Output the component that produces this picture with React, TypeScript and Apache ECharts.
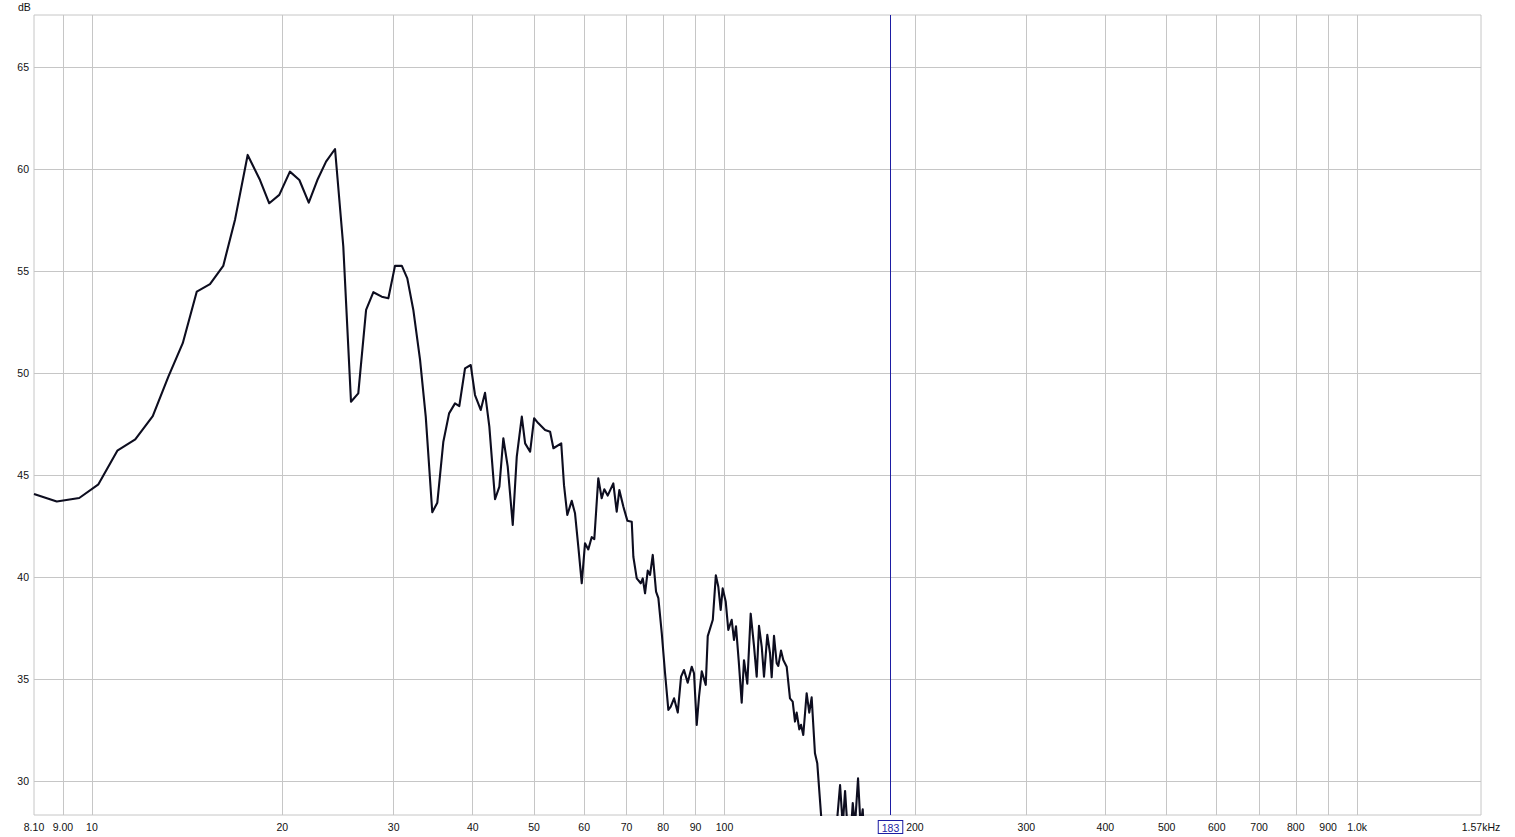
import React, { useEffect, useRef } from "react";
import * as echarts from "echarts";

// Frequency (Hz) of each measured point
const freqHz = [
  8.1, 8.8, 9.55, 10.24, 10.97, 11.71, 12.48, 13.21, 13.92, 14.65, 15.37, 16.13, 16.84, 17.63, 18.44, 19.07, 19.78,
  20.56, 21.28, 22.02, 22.72, 23.45, 24.23, 24.97, 25.68, 26.37, 27.13, 27.86, 28.72, 29.42, 30.14, 30.89, 31.52,
  32.22, 33.02, 33.71, 34.52, 35.16, 35.94, 36.7, 37.5, 38.09, 38.89, 39.71, 40.33, 41.18, 41.83, 42.49, 43.38,
  44.07, 44.71, 45.43, 46.27, 46.95, 47.82, 48.4, 49.29, 50.01, 50.8, 52.05, 53.01, 53.65, 55.2, 55.76, 56.43,
  57.35, 58.04, 58.74, 59.48, 60.19, 60.91, 61.67, 62.26, 63.17, 63.96, 64.57, 65.37, 66.72, 67.55, 68.2, 69.2,
  70.22, 71.35, 71.77, 72.66, 73.73, 74.27, 74.89, 75.63, 76.27, 77.02, 77.95, 78.61, 79.59, 80.55, 81.52, 82.24,
  83.23, 84.36, 85.38, 86.3, 87.47, 88.76, 89.5, 90.39, 91.15, 92.06, 93.41, 94.09, 95.84, 96.9, 97.78, 98.63,
  99.35, 100.44, 101.4, 102.66, 103.52, 104.28, 105.31, 106.47, 107.36, 108.66, 110.01, 111.34, 112.44, 113.39,
  114.51, 115.47, 116.87, 118.02, 118.75, 119.75, 120.93, 121.64, 122.84, 123.87, 125.41, 126.92, 128.18, 129.26,
  130.06, 131.3, 132.12, 133.22, 134.86, 136.15, 137.34, 139.0, 140.17, 142.07, 143.5, 150.0, 150.4, 152.3, 153.8,
  155.1, 156.4, 158.0, 159.5, 160.8, 162.6, 164.1, 165.4, 166.3,
];

// SPL (dB) at each frequency
const splDb = [
  44.07, 43.7, 43.87, 44.54, 46.19, 46.75, 47.89, 49.82, 51.46, 53.99, 54.36, 55.25, 57.53, 60.69, 59.46, 58.32, 58.73,
  59.87, 59.46, 58.35, 59.46, 60.36, 60.98, 56.2, 48.59, 49.0, 53.09, 53.96, 53.74, 53.66, 55.25, 55.26, 54.64,
  53.09, 50.64, 47.86, 43.17, 43.64, 46.63, 48.02, 48.51, 48.38, 50.23, 50.39, 48.92, 48.19, 49.03, 47.37, 43.81,
  44.43, 46.8, 45.41, 42.55, 45.9, 47.86, 46.55, 46.14, 47.78, 47.53, 47.21, 47.12, 46.31, 46.55, 44.5, 43.04,
  43.73, 43.12, 41.49, 39.69, 41.65, 41.35, 41.95, 41.85, 44.84, 43.86, 44.3, 43.99, 44.59, 43.2, 44.26, 43.45,
  42.76, 42.71, 40.99, 39.93, 39.69, 39.93, 39.2, 40.31, 40.1, 41.08, 39.28, 38.96, 37.24, 35.28, 33.48, 33.64,
  34.05, 33.35, 35.11, 35.44, 34.82, 35.6, 35.28, 32.75, 34.13, 35.37, 34.71, 37.1, 37.9, 40.08, 39.52, 38.38,
  39.44, 38.8, 37.4, 37.9, 36.91, 37.58, 35.9, 33.84, 35.92, 34.77, 38.2, 36.62, 35.11, 37.6,
  36.59, 35.11, 37.16, 36.26, 35.08, 37.11, 35.77, 35.64, 36.39, 35.93, 35.6, 34.05, 33.89, 32.91,
  33.35, 32.53, 32.75, 32.25, 34.3, 33.35, 34.1, 31.36, 30.87, 28.41, 26.5, 26.5, 27.8, 29.8, 27.8,
  29.51, 27.8, 27.0, 28.91, 27.8, 30.13, 27.8, 28.61, 27.0,
];

const yTickValues = [30, 35, 40, 45, 50, 55, 60, 65];
const xGridValues = [9, 10, 20, 30, 40, 50, 60, 70, 80, 90, 100, 200, 300, 400, 500, 600, 700, 800, 900, 1000];
const xLabelValues = [8.1, 9, 10, 20, 30, 40, 50, 60, 70, 80, 90, 100, 200, 300, 400, 500, 600, 700, 800, 900, 1000, 1570];
const xMin = 8.1;
const xMax = 1570;
const yMin = 28.33;
const yMax = 67.55;
const markerFreq = 183;
const yUnit = "dB";

const FONT = "'Liberation Sans', Arial, sans-serif";
const GRID_COLOR = "#c6c6c6";
const TEXT_COLOR = "#111111";
const MARK_COLOR = "#1d1da3";

function formatFreq(v: number): string {
  if (Math.abs(v - 8.1) < 0.01) return "8.10";
  if (Math.abs(v - 9) < 0.01) return "9.00";
  if (Math.abs(v - 1000) < 0.5) return "1.0k";
  if (Math.abs(v - 1570) < 1) return "1.57kHz";
  return String(Math.round(v));
}

export default function App() {
  const ref = useRef<HTMLDivElement>(null);

  useEffect(() => {
    if (!ref.current) return;
    const chart = echarts.init(ref.current, undefined, { renderer: "svg" });
    const data = freqHz.map((f, i) => [f, splDb[i]]);
    chart.setOption({
      animation: false,
      backgroundColor: "#ffffff",
      textStyle: { fontFamily: FONT },
      title: {
        text: yUnit,
        left: 18,
        top: 1,
        padding: 0,
        textStyle: { fontSize: 10.5, fontWeight: "normal", color: TEXT_COLOR, fontFamily: FONT },
      },
      grid: {
        left: 34,
        right: 34,
        top: 15,
        bottom: 22,
        show: true,
        borderColor: GRID_COLOR,
        borderWidth: 1,
        backgroundColor: "#ffffff",
        containLabel: false,
        outerBoundsMode: "none",
      },
      xAxis: {
        type: "log",
        logBase: 10,
        min: xMin,
        max: xMax,
        axisLine: { show: false },
        axisTick: { show: false, customValues: xGridValues },
        splitLine: { show: true, lineStyle: { color: GRID_COLOR, width: 1 } },
        minorTick: { show: false },
        minorSplitLine: { show: false },
        axisLabel: {
          customValues: xLabelValues,
          formatter: (v: number) => formatFreq(v),
          color: TEXT_COLOR,
          fontSize: 10.5,
          fontFamily: FONT,
          margin: 6,
          hideOverlap: false,
          showMinLabel: true,
          showMaxLabel: true,
        },
      },
      yAxis: {
        type: "value",
        min: yMin,
        max: yMax,
        axisLine: { show: false },
        axisTick: { show: false, customValues: yTickValues },
        splitLine: { show: true, lineStyle: { color: GRID_COLOR, width: 1 } },
        axisLabel: {
          customValues: yTickValues,
          color: TEXT_COLOR,
          fontSize: 10.5,
          fontFamily: FONT,
          margin: 5,
        },
      },
      series: [
        {
          type: "line",
          data,
          showSymbol: false,
          symbol: "none",
          clip: true,
          silent: true,
          lineStyle: { color: "#0d0d1f", width: 2.1, join: "round" },
          markLine: {
            silent: true,
            symbol: ["none", "none"],
            animation: false,
            lineStyle: { color: MARK_COLOR, width: 1, type: "solid" },
            label: {
              show: true,
              position: "start",
              formatter: String(markerFreq),
              color: MARK_COLOR,
              fontSize: 10.5,
              fontFamily: FONT,
              borderColor: MARK_COLOR,
              borderWidth: 1,
              backgroundColor: "#ffffff",
              padding: [1, 3, 0, 3],
              distance: 6,
            },
            emphasis: { disabled: true },
            data: [{ xAxis: markerFreq }],
          },
        },
      ],
    });
    return () => chart.dispose();
  }, []);

  return (
    <div
      ref={ref}
      style={{ position: "fixed", left: 0, top: 0, width: 1515, height: 837, background: "#fff" }}
    />
  );
}
